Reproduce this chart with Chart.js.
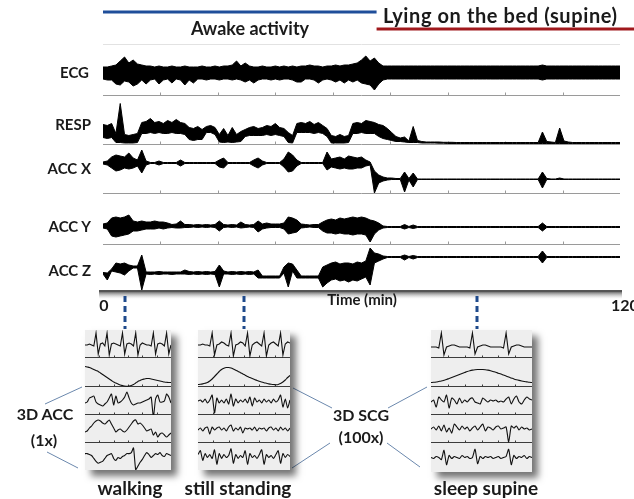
<!DOCTYPE html>
<html>
<head>
<meta charset="utf-8">
<script src="https://cdn.jsdelivr.net/npm/chart.js@4.4.1/dist/chart.umd.min.js"></script>
<style>
  body { margin: 0; width: 634px; height: 499px; overflow: hidden; background: #fff; position: relative;
         font-family: 'Lato', 'DejaVu Sans', sans-serif; font-weight: 700; color: #1a1a1a; }
  canvas { position: absolute; }
  .inset { background: #eeeeee; box-shadow: 6px 6px 7px rgba(0, 0, 0, 0.55); }
  .lbl { position: absolute; white-space: nowrap; line-height: 1; transform: translateY(-50%); }
  .mid { transform: translate(-50%, -50%); }
  .rgt { transform: translate(-100%, -50%); }
  svg { position: absolute; left: 0; top: 0; pointer-events: none; }
</style>
</head>
<body>
<canvas id="mainChart" width="634" height="499" style="left:0;top:0"></canvas>

<svg width="634" height="499">
  <g stroke="#6b88ad" stroke-width="1">
    <line x1="45" y1="404" x2="82" y2="387" />
    <line x1="47" y1="452" x2="78" y2="468" />
    <line x1="293" y1="388" x2="332" y2="408" />
    <line x1="292" y1="468" x2="330" y2="443" />
    <line x1="388" y1="408" x2="427" y2="387" />
    <line x1="387" y1="443" x2="420" y2="467" />
  </g>
</svg>

<canvas id="walkChart" class="inset" width="86" height="140" style="left:85px;top:330px"></canvas>
<canvas id="standChart" class="inset" width="92" height="140" style="left:198px;top:330px"></canvas>
<canvas id="sleepChart" class="inset" width="101" height="142" style="left:431px;top:330px"></canvas>

<div class="lbl mid" style="left:250px;top:28px;font-size:18px">Awake activity</div>
<div class="lbl" style="left:383px;top:15px;font-size:20px;letter-spacing:0.6px">Lying on the bed (supine)</div>

<div class="lbl rgt" style="left:89px;top:72px;font-size:15px">ECG</div>
<div class="lbl rgt" style="left:91px;top:124px;font-size:15px">RESP</div>
<div class="lbl rgt" style="left:91px;top:168px;font-size:15px">ACC X</div>
<div class="lbl rgt" style="left:91px;top:226px;font-size:15px">ACC Y</div>
<div class="lbl rgt" style="left:91px;top:270px;font-size:15px">ACC Z</div>

<div class="lbl mid" style="left:104px;top:305px;font-size:16px">0</div>
<div class="lbl mid" style="left:362px;top:299px;font-size:15px">Time (min)</div>
<div class="lbl" style="left:611px;top:305px;font-size:16px">120</div>

<div class="lbl mid" style="left:45px;top:414px;font-size:16px">3D ACC</div>
<div class="lbl mid" style="left:44px;top:440px;font-size:16px">(1x)</div>
<div class="lbl mid" style="left:361px;top:415px;font-size:16px">3D SCG</div>
<div class="lbl mid" style="left:361px;top:437px;font-size:16px">(100x)</div>

<div class="lbl mid" style="left:130px;top:487px;font-size:19px">walking</div>
<div class="lbl mid" style="left:238px;top:487px;font-size:19px">still standing</div>
<div class="lbl mid" style="left:486px;top:487px;font-size:19px">sleep supine</div>

<script>
// ---- long recording, one sample per minute (upper / lower envelope of each trace) ----
const minutes = Array.from({ length: 121 }, (_, i) => i)

const ecgHi = [6, 6, 7, 8, 12, 16, 10, 13, 9, 8,
  7, 7, 6, 7, 6, 6, 7, 6, 6, 7,
  6, 6, 6, 7, 6, 6, 7, 6, 7, 7,
  8, 12, 7, 10, 7, 6, 6, 7, 6, 6,
  7, 6, 7, 6, 7, 6, 7, 7, 8, 7,
  7, 6, 7, 7, 8, 7, 8, 8, 9, 10,
  13, 17, 12, 15, 10, 7, 7, 7, 7, 7,
  7, 7, 7, 7, 7, 7, 7, 7, 7, 7,
  7, 7, 7, 7, 7, 7, 7, 7, 7, 7,
  7, 7, 7, 7, 7, 7, 7, 7, 7, 7,
  7, 7, 8, 7, 7, 7, 7, 7, 7, 7,
  7, 7, 7, 7, 7, 7, 7, 7, 7, 7,
  7]
const ecgLo = [-6, -7, -7, -11, -12, -8, -9, -13, -11, -7,
  -11, -7, -6, -11, -7, -6, -10, -6, -7, -12,
  -7, -10, -6, -6, -7, -6, -6, -7, -6, -6,
  -7, -6, -7, -9, -7, -10, -7, -6, -6, -7,
  -6, -7, -6, -6, -7, -9, -9, -6, -6, -7,
  -10, -7, -6, -7, -9, -7, -10, -7, -9, -7,
  -10, -11, -12, -17, -11, -7, -6, -6, -6, -6,
  -6, -6, -6, -6, -6, -6, -6, -6, -6, -6,
  -6, -6, -6, -6, -6, -6, -6, -6, -6, -6,
  -6, -6, -6, -6, -6, -6, -6, -6, -6, -6,
  -6, -6, -7, -6, -6, -6, -6, -6, -6, -6,
  -6, -6, -6, -6, -6, -6, -6, -6, -6, -6,
  -6]

const respHi = [19, 18, 20, 10, 40, 9, 8, 9, 10, 21,
  22, 25, 21, 22, 20, 23, 21, 24, 21, 20,
  16, 15, 17, 14, 17, 18, 16, 9, 15, 8,
  16, 9, 12, 14, 16, 17, 15, 16, 18, 17,
  20, 16, 15, 11, 8, 20, 21, 20, 22, 19,
  21, 18, 15, 8, 7, 9, 7, 8, 20, 21,
  20, 23, 22, 21, 19, 18, 15, 11, 7, 5.5,
  6.5, 2.5, 17, 3, 2, 1.5, 1.5, 1.5, 1.5, 1.2,
  1.2, 1.2, 1, 1, 1, 1, 1, 1, 1, 1,
  1, 1, 1, 1, 1, 1, 1, 1, 1, 1,
  1, 1, 11.5, 2, 1.5, 1, 15.5, 2.5, 1.5, 1,
  1, 1, 1, 1, 1, 1, 1, 1, 1, 1,
  1]
const respLo = [6, 5, 6, 1, 1, 0.5, 0.5, 0.5, 1, 10,
  10, 11, 10, 11, 10, 10, 11, 10, 10, 9,
  4, 3, 4, 4, 11, 11, 9, 1.5, 1, 1.5,
  1, 1.5, 2, 7, 8, 8, 8, 8, 9, 8,
  9, 8, 7, 1, 0.5, 11, 11, 11, 11, 10,
  11, 10, 7, 0.5, 0.5, 0.5, 0.5, 1, 10, 10,
  11, 10, 10, 10, 7, 5, 4, 3, 2, 2,
  1.5, 1, 1, 1, 0.5, 0.5, 0.5, 0.5, 0.3, 0.3,
  0, 0, 0, 0, 0, 0, 0, 0, 0, 0,
  0, 0, 0, 0, 0, 0, 0, 0, 0, 0,
  0, 0, 0, 0, 0, 0, 0, 0, 0, 0,
  0, 0, 0, 0, 0, 0, 0, 0, 0, 0,
  0]

const accXHi = [1, 2, 6, 8, 7, 6, 10, 5, 3, 13,
  2, 0.5, 0.5, 2, 0.5, 0.5, 0.5, 0.5, 3, 0.5,
  0.5, 0.5, 0.5, 0.5, 0.5, 0.5, 0.5, 3, 5, 0.5,
  0.5, 0.5, 0.5, 0.5, 0.5, 3, 5, 2, 0.5, 0.5,
  0.5, 0.5, 4, 11, 8, 3, 0.5, 0.5, 0.5, 0.5,
  0.5, 0.5, 11, 4, 5, 6, 4, 7, 6, 5,
  6, 3, 1, -8, -12, -14, -15, -15, -15.5, -15.5,
  -9, -15.5, -10, -16, -16, -16, -16, -16, -16, -16,
  -16, -16, -16, -16, -16, -16, -16, -16, -16, -16,
  -16, -16, -16, -16, -16, -16, -16, -16, -16, -16,
  -16, -16, -9, -15.5, -16, -16, -15, -16, -16, -16,
  -16, -16, -16, -16, -16, -16, -16, -16, -16, -16,
  -16]
const accXLo = [-1, -2, -5, -8, -7, -5, -6, -5, -3, -10,
  -2, -0.5, -0.5, -2, -0.5, -0.5, -0.5, -0.5, -3, -0.5,
  -0.5, -0.5, -0.5, -0.5, -0.5, -0.5, -0.5, -4, -5, -0.5,
  -0.5, -0.5, -0.5, -0.5, -0.5, -3, -5, -2, -0.5, -0.5,
  -0.5, -0.5, -4, -9, -8, -3, -0.5, -0.5, -0.5, -0.5,
  -0.5, -0.5, -7, -4, -5, -6, -5, -6, -6, -5,
  -5, -3, -2, -30, -20, -18, -17, -16.5, -16.5, -16.5,
  -29, -17, -24, -16.5, -16.5, -16.5, -16.5, -16.5, -16.5, -16.5,
  -16.5, -16.5, -16.5, -16.5, -16.5, -16.5, -16.5, -16.5, -16.5, -16.5,
  -16.5, -16.5, -16.5, -16.5, -16.5, -16.5, -16.5, -16.5, -16.5, -16.5,
  -16.5, -16.5, -25, -16.5, -16.5, -16.5, -16.5, -16.5, -16.5, -16.5,
  -16.5, -16.5, -16.5, -16.5, -16.5, -16.5, -16.5, -16.5, -16.5, -16.5,
  -16.5]

const accYHi = [2, 3, 8, 9, 8, 9, 11, 5, 4, 5,
  4, 4, 5, 4, 4, 3, 1.5, 2, 5, 1.5,
  1.5, 1, 1.5, 1, 1.5, 1, 1.5, 5, 1.5, 1,
  1.5, 1, 4, 1.5, 1, 1.5, 5, 2, 3, 2,
  2, 2, 3, 9, 8, 6, 2, 1.5, 1, 1.5,
  1.5, 4, 6, 7, 6, 8, 7, 8, 9, 8,
  9, 8, 6, 5, 3, 0, -0.5, -0.5, -0.5, -0.5,
  1.5, -0.5, 1, -0.5, -0.5, -0.5, -0.5, -0.5, -0.5, -0.5,
  -0.5, -0.5, -0.5, -0.5, -0.5, -0.5, -0.5, -0.5, -0.5, -0.5,
  -0.5, -0.5, -0.5, -0.5, -0.5, -0.5, -0.5, -0.5, -0.5, -0.5,
  -0.5, -0.5, 3, -0.5, -0.5, -0.5, -0.5, -0.5, -0.5, -0.5,
  -0.5, -0.5, -0.5, -0.5, -0.5, -0.5, -0.5, -0.5, -0.5, -0.5,
  -0.5]
const accYLo = [-2, -3, -10, -11, -10, -9, -8, -5, -5, -4,
  -3, -3, -3, -2, -3, -2, -1.5, -2, -2, -1.5,
  -1.5, -1, -1.5, -1, -1.5, -1, -1.5, -5, -1.5, -1,
  -1.5, -1, -2, -1.5, -1, -1.5, -6, -3, -2, -1.5,
  -1.5, -1.5, -3, -8, -7, -6, -2, -1.5, -1, -1.5,
  -1.5, -5, -7, -7, -8, -7, -8, -8, -9, -8,
  -8, -9, -16, -8, -4, -2, -1.5, -1.5, -1.5, -1.5,
  -3, -1.5, -2.5, -1.5, -1.5, -1.5, -1.5, -1.5, -1.5, -1.5,
  -1.5, -1.5, -1.5, -1.5, -1.5, -1.5, -1.5, -1.5, -1.5, -1.5,
  -1.5, -1.5, -1.5, -1.5, -1.5, -1.5, -1.5, -1.5, -1.5, -1.5,
  -1.5, -1.5, -5, -1.5, -1.5, -1.5, -1.5, -1.5, -1.5, -1.5,
  -1.5, -1.5, -1.5, -1.5, -1.5, -1.5, -1.5, -1.5, -1.5, -1.5,
  -1.5]

const accZHi = [0.5, 0, 4, 10, 9, 10, 8, 7, 7, 18,
  1, 1, 1, 1.5, 1, 1, 1, 1, 1, 3,
  1.5, 1, 1.5, 1, 1.5, 1, 1.5, 8, 2, 1,
  1.5, 1, 1.5, 1, 1.5, 1, 3, -3, -3, -3,
  -3, -3, 6, 10, 9, 3, -3, -3, -3, -3,
  -3, 6, 8, 10, 11, 9, 10, 10, 9, 11,
  10, 12, 25, 20, 19, 17, 16.5, 16.5, 16.5, 16.5,
  18, 16.5, 17.5, 16.5, 16.5, 16.5, 16.5, 16.5, 16.5, 16.5,
  16.5, 16.5, 16.5, 16.5, 16.5, 16.5, 16.5, 16.5, 16.5, 16.5,
  16.5, 16.5, 16.5, 16.5, 16.5, 16.5, 16.5, 16.5, 16.5, 16.5,
  16.5, 16.5, 22, 16.5, 16.5, 16.5, 16.5, 16.5, 16.5, 16.5,
  16.5, 16.5, 16.5, 16.5, 16.5, 16.5, 16.5, 16.5, 16.5, 16.5,
  16.5]
const accZLo = [-1, -7, 2, 1, 0, -2, 2, 5, 5, -17,
  -1, -1.5, -1, -1.5, -1, -1, -1.5, -1, -1, -1,
  -1.5, -1, -1.5, -1, -1.5, -1, -1.5, -14, -1, -1,
  -1.5, -1, -1.5, -1, -1.5, -1, -5, -5, -5, -5,
  -5, -5, 0, -14, 2, -5, -5, -5, -5, -5,
  -5, -14, -10, -7, -6, -8, -7, -9, -7, -8,
  -6, -4, -12, 10, 12, 14, 15.5, 15.5, 15.5, 15.5,
  13, 15.5, 14, 15.5, 15.5, 15.5, 15.5, 15.5, 15.5, 15.5,
  15.5, 15.5, 15.5, 15.5, 15.5, 15.5, 15.5, 15.5, 15.5, 15.5,
  15.5, 15.5, 15.5, 15.5, 15.5, 15.5, 15.5, 15.5, 15.5, 15.5,
  15.5, 15.5, 10, 15.5, 15.5, 15.5, 15.5, 15.5, 15.5, 15.5,
  15.5, 15.5, 15.5, 15.5, 15.5, 15.5, 15.5, 15.5, 15.5, 15.5,
  15.5]

// activity phases and the moments shown in the close-ups (minutes)
const phaseStart = [0, 63.5]
const phaseEnd = [63.5, 120]
const markerMin = [5, 32.7, 86.8]

// ---- close-up windows, 40 samples each ----
const sampleIdx = Array.from({ length: 40 }, (_, i) => i)

const walkEcg = [-1, -1, 0, -1, -2, 11, -10, 0, 1, -2, 11, -11, 0, 1, 0, -1, -2, 11, -10, 0,
  1, 0, -2, 11, -11, -1, 1, 0, -1, -1, -2, 11, -10, 0, 1, 0, -2, 11, -10, -1]
const walkResp = [20, 19.5, 19, 18, 17, 16, 15, 13.5, 12, 10.5, 9, 7.5, 6, 4.5, 3.5, 2.5, 1.5, 1, 0.5, 0.3,
  0.5, 1, 2, 3.5, 5, 6, 7, 7.5, 8, 8, 7.5, 7, 6.5, 6, 5.5, 5, 4.5, 4.2, 4, 4]
const walkAccX = [-2, -1, 3, 4, 5, -1, -3, -4, -5, -3, -1, 3, 7, -4, 5, -2, -1, 1, 4, 9,
  3, -2, -4, -3, -2, -2, -1, 0, 1, 2, 4, -16, 2, 6, -1, -1, 0, 7, 4, -2]
const walkAccY = [-3, -2, 1, 3, 6, 8, 9, 8, 6, 5, 7, 9, 5, 1, -3, -1, 0, -2, -3, -1,
  2, 5, 8, 9, 5, 6, 4, 1, -2, -1, 0, -6, -3, -8, -5, -4, -6, -8, -6, -4]
const walkAccZ = [3, 3, 2, 1, -2, -5, -7, -6, -5, -2, 1, 2, 3, -2, -4, -1, -2, 0, 1, 3,
  3, 4, 9, -14, -10, -6, -3, 1, 4, 2, -1, 1, 3, 2, 4, 1, 0, 3, 2, 1]

const standEcg = [-1, -1, 0, -1, -1, -2, 11, -11, -1, 0, 2, 1, -1, -2, 11, -12, -1, 0, 2, 1,
  -2, 11, -12, -1, 1, 2, 0, -2, 11, -12, -1, 1, 2, 0, -2, 11, -11, 0, 2, 1]
const standResp = [2, 2.2, 2.6, 3.2, 4, 5.5, 7.5, 10, 12.5, 15, 17, 18.3, 19, 19, 18.5, 17.5, 16.3, 15, 13.8, 12.5,
  11.3, 10, 9, 8, 7, 6, 5.2, 4.5, 3.8, 3.2, 2.6, 2.2, 2, 1.8, 2, 3, 4.5, 6.5, 9, 11]
const standAccX = [0, 1, -1, 2, -2, 1, 6, -12, 3, -2, 1, -2, 2, -3, 7, -5, 2, -2, 1, -1,
  2, -2, 4, -5, 3, -1, 1, -2, 2, -1, 1, -2, 2, -1, 1, 6, -6, 2, -7, 1]
const standAccY = [-1, 1, -2, 1, 2, -5, 2, -1, 1, 2, -1, 1, -2, 2, 4, -2, 1, -1, 2, -4,
  1, 0, 1, -1, 2, -2, 1, 0, 1, -2, 1, 2, -1, 1, -2, 2, -1, 1, -2, 1]
const standAccZ = [2, 6, -4, 3, -1, 2, -2, 7, -8, 3, -2, 2, -1, 1, 8, -7, 2, -2, 1, -1,
  6, -8, 3, -1, 1, -2, 2, 7, -8, 2, -1, 1, -2, 2, 6, -7, 3, -1, 2, 0]

const sleepEcg = [-3, -3, -3, -4, 11, -11, -3, -2, -1, -1, -2, -3, -3, -3, -3, -4, 11, -10, -3, -2,
  -1, -1, -2, -3, -3, -3, -3, -3, -4, 11, -10, -3, -2, -1, -1, -2, -3, -3, -3, -3]
const sleepResp = [4, 4.2, 4.5, 5, 5.5, 6.2, 7, 8, 9, 10, 11, 12, 13, 14, 15, 15.8, 16.4, 16.8, 17, 17,
  17, 16.8, 16.4, 15.8, 15, 14.2, 13.3, 12.4, 11.4, 10.4, 9.4, 8.5, 7.6, 6.8, 6.1, 5.5, 5, 4.6, 4.2, 4]
const sleepAccX = [-1, 1, -6, 4, 1, -1, 6, -7, 3, 1, -3, 3, -2, 1, -1, 2, 3, -1, -2, -3,
  3, 1, -1, 1, 0, 1, -1, 0, -1, 2, 4, -3, 2, 5, -1, -3, 1, 4, 2, 1]
const sleepAccY = [0, 2, -1, 3, -2, 4, -3, 1, -4, 5, 2, -1, 3, 0, 2, -2, 1, 3, -1, 2,
  5, -2, 2, 1, -1, 2, 3, 0, 1, 2, -13, 3, 1, 3, -1, 2, 0, 1, -1, 0]
const sleepAccZ = [0, -1, 1, 0, -2, 7, -7, 2, -1, 1, 0, -1, 2, 0, 1, -1, 0, 8, -6, 1,
  -1, 1, 0, 1, -1, 0, 1, -1, 0, 1, 8, -7, 2, -1, 1, 0, 2, -1, 1, 0]

// ---- lanes (one stacked y axis per trace), top to bottom ----
const laneIds = ['ecg', 'resp', 'accX', 'accY', 'accZ']
const laneWeight = [51, 49, 49, 51, 47]
const laneMin = [-22, -0.5, -30, -18, -18]
const laneMax = [29, 48.5, 19, 33, 29]
const laneHi = [ecgHi, respHi, accXHi, accYHi, accZHi]
const laneLo = [ecgLo, respLo, accXLo, accYLo, accZLo]

function laneAxis(weight, min, max) {
  return {
    type: 'linear', position: 'left', stack: 'lanes', stackWeight: weight, min: min, max: max,
    ticks: { display: false }, grid: { display: false }, border: { display: false },
    afterFit: function (s) { s.width = 0 }
  }
}

function hLine(ctx, x1, x2, y) {
  ctx.beginPath()
  ctx.moveTo(x1, y)
  ctx.lineTo(x2, y)
  ctx.stroke()
}

const mainRules = {
  id: 'mainRules',
  beforeDatasetsDraw(chart) {
    const { ctx, chartArea, scales } = chart
    const xs = scales.x
    ctx.save()
    ctx.lineWidth = 1
    ctx.strokeStyle = '#e2e2e2'
    hLine(ctx, chartArea.left, chartArea.right, chartArea.top + 0.5)

    ctx.strokeStyle = '#9a9a9a'
    laneIds.slice(0, -1).forEach(id => {
      const y = Math.round(scales[id].bottom) + 0.5
      hLine(ctx, chartArea.left, chartArea.right, y)
      for (let k = 1; k < 9; k++) {
        const tx = Math.round(xs.getPixelForValue(k * 120 / 9)) + 0.5
        ctx.beginPath()
        ctx.moveTo(tx, y)
        ctx.lineTo(tx, y - 3)
        ctx.stroke()
      }
    })

    // time axis with its soft shadow
    const yb = chartArea.bottom
    const grad = ctx.createLinearGradient(0, yb, 0, yb + 8)
    grad.addColorStop(0, 'rgba(70,70,70,0.95)')
    grad.addColorStop(1, 'rgba(200,200,200,0)')
    ctx.fillStyle = grad
    ctx.fillRect(chartArea.left - 4, yb, chartArea.right - chartArea.left + 6, 8)
    ctx.strokeStyle = '#555'
    ctx.lineWidth = 2
    hLine(ctx, chartArea.left - 4, chartArea.right + 2, yb)
    ctx.restore()
  },
  afterDraw(chart) {
    const { ctx, chartArea, scales } = chart
    const xs = scales.x
    ctx.save()
    ctx.lineWidth = 3
    ctx.strokeStyle = '#1f4e9a'
    hLine(ctx, xs.getPixelForValue(phaseStart[0]), xs.getPixelForValue(phaseEnd[0]), 12)
    ctx.strokeStyle = '#a0181c'
    hLine(ctx, xs.getPixelForValue(phaseStart[1]), chart.width, 29)

    ctx.strokeStyle = '#1f4a8c'
    ctx.setLineDash([6, 4])
    markerMin.forEach(m => {
      const x = Math.round(xs.getPixelForValue(m))
      ctx.beginPath()
      ctx.moveTo(x, chartArea.bottom + 5)
      ctx.lineTo(x, 329)
      ctx.stroke()
    })
    ctx.restore()
  }
}

function buildMainChart() {
  const scales = { x: { type: 'linear', min: 0, max: 120, display: false } }
  // left stacks are laid out in reverse order, so the bottom lane goes first
  for (let i = laneIds.length - 1; i >= 0; i--) {
    scales[laneIds[i]] = laneAxis(laneWeight[i], laneMin[i], laneMax[i])
  }

  // every trace is its upper envelope filled down to its lower envelope
  const datasets = []
  laneIds.forEach((id, i) => {
    datasets.push({ data: laneHi[i], yAxisID: id, fill: '+1' })
    datasets.push({ data: laneLo[i], yAxisID: id, fill: false })
  })

  new Chart(document.getElementById('mainChart'), {
    type: 'line',
    data: { labels: minutes, datasets: datasets },
    options: {
      responsive: false,
      animation: false,
      events: [],
      layout: { padding: { left: 103, right: 14, top: 44, bottom: 208 } },
      elements: {
        point: { radius: 0 },
        line: { borderColor: '#000', backgroundColor: '#000', borderWidth: 1, tension: 0 }
      },
      scales: scales,
      plugins: { legend: { display: false }, tooltip: { enabled: false } }
    },
    plugins: [mainRules]
  })
}

// ---- close-up panels ----
const insetLaneIds = ['ecg', 'resp', 'accX', 'accY', 'accZ']
const insetMin = [-14, -0.5, -14, -14, -14]
const insetMax = [14, 28.5, 14, 14, 14]
const insetTension = [0, 0.4, 0.2, 0.2, 0.2]

const insetRules = {
  id: 'insetRules',
  beforeDatasetsDraw(chart) {
    const { ctx, chartArea, scales } = chart
    ctx.save()
    ctx.strokeStyle = '#3c3c3c'
    ctx.lineWidth = 1
    insetLaneIds.slice(0, -1).forEach(id => {
      const y = Math.round(scales[id].bottom) - 0.5
      hLine(ctx, chartArea.left, chartArea.right, y)
      for (let k = 1; k < 6; k++) {
        const tx = Math.round(chartArea.left + k * chartArea.width / 6) + 0.5
        ctx.beginPath()
        ctx.moveTo(tx, y)
        ctx.lineTo(tx, y - 2)
        ctx.stroke()
      }
    })
    ctx.restore()
  }
}

function buildInset(canvasId, weights, rows) {
  const scales = { x: { type: 'linear', min: 0, max: 39, display: false } }
  for (let i = insetLaneIds.length - 1; i >= 0; i--) {
    scales[insetLaneIds[i]] = laneAxis(weights[i], insetMin[i], insetMax[i])
  }
  const datasets = rows.map((row, i) => ({
    data: row, yAxisID: insetLaneIds[i], tension: insetTension[i]
  }))

  new Chart(document.getElementById(canvasId), {
    type: 'line',
    data: { labels: sampleIdx, datasets: datasets },
    options: {
      responsive: false,
      animation: false,
      events: [],
      layout: { padding: 0 },
      elements: {
        point: { radius: 0 },
        line: { borderColor: '#111', borderWidth: 1.1, fill: false }
      },
      scales: scales,
      plugins: { legend: { display: false }, tooltip: { enabled: false } }
    },
    plugins: [insetRules]
  })
}

buildMainChart()
buildInset('walkChart', [28, 29, 28, 28, 27], [walkEcg, walkResp, walkAccX, walkAccY, walkAccZ])
buildInset('standChart', [28, 29, 28, 28, 27], [standEcg, standResp, standAccX, standAccY, standAccZ])
buildInset('sleepChart', [28, 29, 28, 28, 29], [sleepEcg, sleepResp, sleepAccX, sleepAccY, sleepAccZ])
</script>
</body>
</html>
